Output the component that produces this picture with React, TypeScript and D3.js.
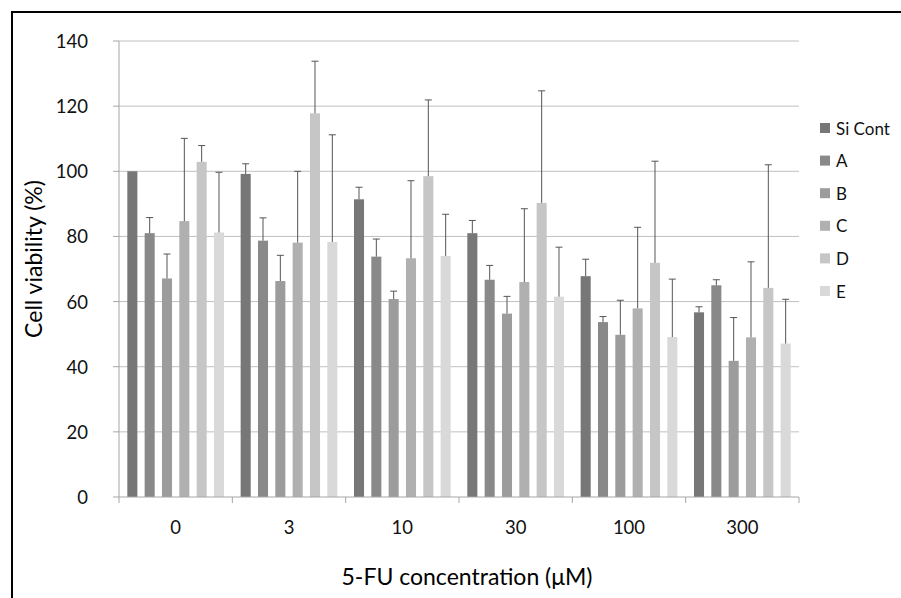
import React from "react";
import * as d3 from "d3";

const categories = ["0", "3", "10", "30", "100", "300"];
const seriesNames = ["Si Cont", "A", "B", "C", "D", "E"];
const seriesColors = ["#777777", "#898989", "#9c9c9c", "#b0b0b0", "#c6c6c6", "#d9d9d9"];
// one array per series, value at each concentration
const siCont = [100, 99.2, 91.4, 81.0, 67.8, 56.7];
const seriesA = [81.0, 78.7, 73.8, 66.7, 53.7, 65.0];
const seriesB = [67.1, 66.3, 60.8, 56.3, 49.8, 41.8];
const seriesC = [84.7, 78.1, 73.3, 66.0, 57.9, 49.0];
const seriesD = [102.9, 117.8, 98.5, 90.3, 71.9, 64.2];
const seriesE = [81.2, 78.3, 74.0, 61.5, 49.1, 47.1];
// upper error bars
const errSi = [0, 3.1, 3.7, 3.9, 5.2, 1.7];
const errA = [4.8, 7.0, 5.4, 4.4, 1.7, 1.7];
const errB = [7.5, 7.9, 2.4, 5.3, 10.6, 13.3];
const errC = [25.4, 21.9, 23.8, 22.5, 24.9, 23.2];
const errD = [5.0, 16.0, 23.4, 34.4, 31.2, 37.8];
const errE = [18.5, 32.9, 12.8, 15.2, 17.8, 13.6];
const yTicks = [0, 20, 40, 60, 80, 100, 120, 140];

const values = [siCont, seriesA, seriesB, seriesC, seriesD, seriesE];
const errors = [errSi, errA, errB, errC, errD, errE];

const font = "Lato, 'Open Sans', sans-serif";

const App = () => {
  const width = 901;
  const height = 598;
  const plot = { left: 119, right: 799, top: 41, bottom: 497 };

  const x = d3.scaleBand().domain(categories).range([plot.left, plot.right]);
  const xInner = d3
    .scaleBand()
    .domain(seriesNames)
    .range([0, x.bandwidth()])
    .paddingInner(0.42)
    .paddingOuter(0.48);
  const y = d3.scaleLinear().domain([0, 140]).range([plot.bottom, plot.top]);

  const legendY = d3.scalePoint().domain(seriesNames).range([128, 291]);

  return (
    <svg
      width={width}
      height={height}
      style={{ position: "absolute", left: 0, top: 0, background: "#fff" }}
    >
      <rect x={0} y={0} width={width} height={height} fill="#fff" />
      <rect x={12} y={12} width={width + 20} height={height + 20} fill="none" stroke="#000" strokeWidth={2} />

      {/* grid */}
      {yTicks.map(t => (
        <g key={t}>
          {t > 0 && (
            <line x1={plot.left} x2={plot.right} y1={y(t)} y2={y(t)} stroke="#c0c0c0" strokeWidth={1} />
          )}
          <line x1={plot.left - 6} x2={plot.left} y1={y(t)} y2={y(t)} stroke="#a6a6a6" />
          <text
            x={88}
            y={y(t)}
            textAnchor="end"
            dominantBaseline="central"
            fontFamily={font}
            fontSize={18.5}
            fill="#111"
          >
            {t}
          </text>
        </g>
      ))}

      {/* bars */}
      {categories.map((c, ci) => (
        <g key={c} transform={`translate(${x(c)},0)`}>
          {seriesNames.map((s, si) => {
            const v = values[si][ci];
            const e = errors[si][ci];
            const bx = xInner(s) as number;
            const cx = bx + xInner.bandwidth() / 2;
            return (
              <g key={s}>
                <rect x={bx} y={y(v)} width={xInner.bandwidth()} height={y(0) - y(v)} fill={seriesColors[si]} />
                {e > 0 && (
                  <g stroke="#555" strokeWidth={1}>
                    <line x1={cx} x2={cx} y1={y(v)} y2={y(v + e)} />
                    <line x1={cx - 3.5} x2={cx + 3.5} y1={y(v + e)} y2={y(v + e)} />
                  </g>
                )}
              </g>
            );
          })}
        </g>
      ))}

      {/* axes */}
      <line x1={plot.left} x2={plot.left} y1={plot.top} y2={plot.bottom} stroke="#a6a6a6" />
      <line x1={plot.left} x2={plot.right} y1={plot.bottom} y2={plot.bottom} stroke="#a6a6a6" />
      {categories.concat([""]).map((c, i) => {
        const tx = plot.left + i * x.step();
        return <line key={i} x1={tx} x2={tx} y1={plot.bottom} y2={plot.bottom + 6} stroke="#a6a6a6" />;
      })}
      {categories.map(c => (
        <text
          key={c}
          x={(x(c) as number) + x.bandwidth() / 2}
          y={534}
          textAnchor="middle"
          fontFamily={font}
          fontSize={18.5}
          fill="#111"
        >
          {c}
        </text>
      ))}

      <text
        x={(plot.left + plot.right) / 2 + 8}
        y={585}
        textAnchor="middle"
        fontFamily={font}
        fontSize={23}
        fill="#000"
      >
        5-FU concentration (μM)
      </text>
      <text
        transform={`translate(42,259) rotate(-90)`}
        textAnchor="middle"
        fontFamily={font}
        fontSize={23}
        fill="#000"
      >
        Cell viability (%)
      </text>

      {/* legend */}
      {seriesNames.map((s, i) => (
        <g key={s} transform={`translate(820,${legendY(s)})`}>
          <rect x={0} y={-5} width={10} height={10} fill={seriesColors[i]} />
          <text x={16} y={0} dominantBaseline="central" fontFamily={font} fontSize={17} fill="#111">
            {s}
          </text>
        </g>
      ))}
    </svg>
  );
};

export default App;
